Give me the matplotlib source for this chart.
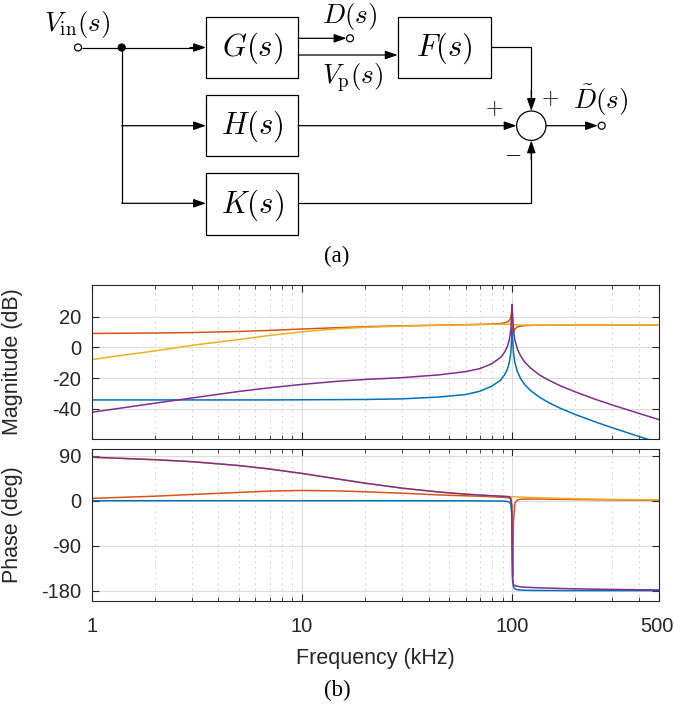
import matplotlib.pyplot as plt
import matplotlib.ticker as mtick
from matplotlib.patches import Rectangle, Circle

plt.rcParams["mathtext.fontset"] = "cm"
plt.rcParams["axes.unicode_minus"] = False

# ---- data (frequency in kHz) ----
freq = [1, 2, 3, 5, 7, 10, 15, 20, 30, 45, 60, 70, 80, 88, 92, 95, 97, 98.5,
        99.5, 100, 100.5, 101.5, 103, 106, 110, 115, 122, 135, 150, 170, 200,
        250, 300, 400, 500]

mag_blue = [-34.1, -34.1, -34.1, -34.1, -34.1, -34.0, -33.9, -33.8, -33.4, -32.2,
            -30.6, -28.5, -25.2, -21.3, -17.8, -13.9, -9.5, -3.6, 6.0, 13.0, 6.0,
            -3.7, -9.8, -15.9, -20.5, -24.3, -27.9, -32.4, -36.0, -39.6, -43.6,
            -48.5, -52.2, -57.8, -62.0]
mag_orange = [9.1, 9.4, 9.7, 10.4, 11.1, 12.0, 12.9, 13.5, 14.1, 14.5, 14.8, 15.0,
              15.2, 15.6, 16.0, 16.7, 17.6, 19.5, 23.5, 27.0, 12.0, 9.8, 12.0, 13.4,
              13.9, 14.2, 14.35, 14.45, 14.5, 14.5, 14.5, 14.5, 14.5, 14.5, 14.5]
mag_yellow = [-7.8, -2.2, 1.4, 5.2, 7.8, 10.2, 12.2, 13.1, 13.9, 14.4, 14.7, 14.9,
              15.0, 15.1, 15.1, 15.1, 15.1, 15.1, 15.0, 15.0, 14.9, 14.8, 14.7,
              14.6, 14.6, 14.55, 14.5, 14.5, 14.5, 14.5, 14.5, 14.5, 14.5, 14.5, 14.5]
mag_purple = [-42.1, -36.2, -32.8, -28.6, -26.2, -24.0, -21.9, -20.8, -19.6, -17.8,
              -15.7, -13.8, -10.6, -6.5, -3.1, 0.8, 5.2, 11.1, 20.6, 28.0, 20.6, 11.0,
              4.9, -1.2, -5.8, -9.6, -13.2, -17.9, -21.4, -25.0, -28.9, -33.8, -37.4,
              -42.8, -46.9]

ph_blue = [0, 0, 0, 0, 0, 0, 0, 0, -0.1, -0.2, -0.3, -0.4, -0.5, -0.6, -0.8, -1.5,
           -3, -7, -25, -90, -155, -173, -176.5, -178, -178.7, -179.1, -179.3, -179.5,
           -179.6, -179.7, -179.7, -179.8, -179.8, -179.8, -179.8]
ph_orange = [4.7, 9.0, 12.5, 16.5, 19.2, 20.5, 19.5, 17.8, 15.0, 11.5, 9.8, 9.0, 8.0,
             7.0, 6.5, 6.0, 5.0, 3.0, -10, -60, -150, -40, -5, 1.5, 3.0, 3.3, 3.4,
             3.3, 3.1, 2.8, 2.4, 1.9, 1.5, 1.0, 0.7]
ph_yellow = [87, 82, 78, 70.3, 63.4, 54.5, 43, 35, 25, 17.3, 13.1, 11.3, 9.9, 9.0,
             8.6, 8.4, 8.2, 8.1, 8.0, 8.0, 7.9, 7.8, 7.7, 7.5, 7.3, 6.9, 6.5, 5.9,
             5.3, 4.7, 4.0, 3.2, 2.7, 2.0, 1.6]
ph_purple = [87, 82, 78, 70.3, 63.4, 54.5, 43, 35, 25, 17.3, 13.1, 11.3, 9.9, 9.0,
             8.6, 8.2, 7.5, 5.0, -10, -85, -160, -168, -170, -171, -172.5, -173,
             -173.5, -174.2, -174.8, -175.5, -176.2, -177, -177.4, -178.1, -178.5]

xtick_vals = [1, 10, 100, 500]
xtick_text = ["1", "10", "100", "500"]

series = [("blue", "#0072BD", mag_blue, ph_blue),
          ("orange", "#D95319", mag_orange, ph_orange),
          ("yellow", "#EDB120", mag_yellow, ph_yellow),
          ("purple", "#7E2F8E", mag_purple, ph_purple)]

W, H = 674, 708
fig = plt.figure(figsize=(W / 100, H / 100), dpi=100)

# ---------------- block diagram (a) ----------------
dg = fig.add_axes([0, 1 - 265 / H, 1, 265 / H])
dg.set_xlim(0, W)
dg.set_ylim(265, 0)
dg.axis("off")

LW = 0.9


def line(pts):
    xs, ys = zip(*pts)
    dg.plot(xs, ys, color="k", lw=LW, solid_capstyle="butt")


def arrow(p0, p1):
    dg.annotate("", xy=p1, xytext=p0,
                arrowprops=dict(arrowstyle="-|>,head_length=0.75,head_width=0.26",
                                mutation_scale=10, lw=LW, color="k",
                                shrinkA=0, shrinkB=0))


def block(x, y, w, h, label):
    dg.add_patch(Rectangle((x, y), w, h, fill=False, lw=LW, ec="k"))
    dg.text(x + w / 2, y + h / 2 + 1, label, fontsize=22, ha="center", va="center")


def port(x, y, filled=False):
    dg.add_patch(Circle((x, y), 3.5, fc="k" if filled else "white", ec="k",
                        lw=LW, zorder=3))


yG, yH, yK = 47.5, 125.7, 203.3
xj = 121.7
block(206, 17, 92.3, 60.6, r"$G(s)$")
block(206, 95.3, 92.3, 60.6, r"$H(s)$")
block(206, 173.3, 92.3, 61.5, r"$K(s)$")
block(397.7, 17, 93, 60.6, r"$F(s)$")

port(78, yG)
line([(81.5, yG), (200, yG)])
arrow((190, yG), (206, yG))
port(xj, yG, filled=True)
line([(xj, yG), (xj, yK)])
arrow((xj, yH), (206, yH))
arrow((xj, yK), (206, yK))

# G outputs
arrow((298.3, 38.3), (346.5, 38.3))
port(350, 38.3)
arrow((298.3, 55), (397.7, 55))

# summing junction
sx, sy, sr = 531.3, yH, 14.7
dg.add_patch(Circle((sx, sy), sr, fill=False, ec="k", lw=LW))
line([(490.7, 46.7), (sx, 46.7), (sx, 100)])
arrow((sx, 90), (sx, sy - sr))
arrow((298.3, yH), (sx - sr, yH))
line([(298.3, yK), (sx, yK), (sx, 150)])
arrow((sx, 160), (sx, sy + sr))
arrow((sx + sr, yH), (598, yH))
port(601.7, yH)

dg.text(77.5, 25, r"$V_{\rm in}(s)$", fontsize=19.5, ha="center", va="center")
dg.text(350, 17, r"$D(s)$", fontsize=19.5, ha="center", va="center")
dg.text(353, 78, r"$V_{\rm p}(s)$", fontsize=19.5, ha="center", va="center")
dg.text(601, 100, r"$\tilde{D}(s)$", fontsize=19.5, ha="center", va="center")
dg.text(494.3, 108, r"$+$", fontsize=16, ha="center", va="center")
dg.text(550, 98, r"$+$", fontsize=16, ha="center", va="center")
dg.text(512.3, 152.7, r"$-$", fontsize=16, ha="center", va="center")
fig.text(337 / W, 1 - 256 / H, "(a)", fontsize=16.5, family="Liberation Serif",
         ha="center", va="center")

# ---------------- bode plot (b) ----------------
AX_C = "#262626"
left, width = 92 / W, (659 - 92) / W
ax_m = fig.add_axes([left, 1 - 439 / H, width, (439 - 285) / H])
ax_p = fig.add_axes([left, 1 - 601 / H, width, (601 - 449) / H])

for name, col, mag, ph in series:
    ax_m.plot(freq, mag, color=col, lw=1.1)
    ax_p.plot(freq, ph, color=col, lw=1.1)

for ax in (ax_m, ax_p):
    ax.set_xscale("log")
    ax.set_xlim(1, 500)
    ax.set_xticks(xtick_vals)
    ax.xaxis.set_minor_locator(mtick.LogLocator(base=10, subs=range(2, 10)))
    ax.xaxis.set_minor_formatter(mtick.NullFormatter())
    ax.xaxis.set_major_formatter(mtick.NullFormatter())
    ax.grid(which="major", color="#dcdcdc", lw=0.8)
    ax.grid(which="minor", axis="x", color="#bdbdbd", lw=0.7, ls=(0, (1.2, 4.5)))
    ax.set_axisbelow(True)
    ax.tick_params(which="both", direction="in", top=True, right=True,
                   colors=AX_C, labelsize=14.5, labelfontfamily="Liberation Sans")
    ax.tick_params(which="major", length=5, width=0.8)
    ax.tick_params(which="minor", length=3, width=0.6)
    for sp in ax.spines.values():
        sp.set_color(AX_C)
        sp.set_linewidth(0.8)

ax_m.set_ylim(-59.5, 40.6)
ax_m.set_yticks([-40, -20, 0, 20])
ax_m.tick_params(axis="y", pad=8)
ax_m.set_ylabel("Magnitude (dB)", fontsize=15.5, family="Liberation Sans", color=AX_C)
ax_m.yaxis.set_label_coords(-0.122, 0.5)

ax_p.set_ylim(-200.6, 103.4)
ax_p.set_yticks([-180, -90, 0, 90])
ax_p.tick_params(axis="y", pad=8)
ax_p.set_ylabel("Phase (deg)", fontsize=15.5, family="Liberation Sans", color=AX_C)
ax_p.yaxis.set_label_coords(-0.122, 0.5)

# x tick labels drawn as texts so the last one stays inside the figure
for v, t in zip(xtick_vals, xtick_text):
    ax_p.annotate(t, xy=(v, 0), xycoords=("data", "axes fraction"),
                  xytext=(-1.5 if v == xtick_vals[-1] else 0, -18),
                  textcoords="offset points", ha="center", va="center",
                  fontsize=14.5, family="Liberation Sans", color=AX_C)

ax_p.set_xlabel("Frequency (kHz)", fontsize=15.5, family="Liberation Sans", color=AX_C)
ax_p.xaxis.set_label_coords(0.5, -0.31)

fig.text(337 / W, 1 - 690 / H, "(b)", fontsize=16.5, family="Liberation Serif",
         ha="center", va="center")

fig.savefig("out.png", dpi=100)
